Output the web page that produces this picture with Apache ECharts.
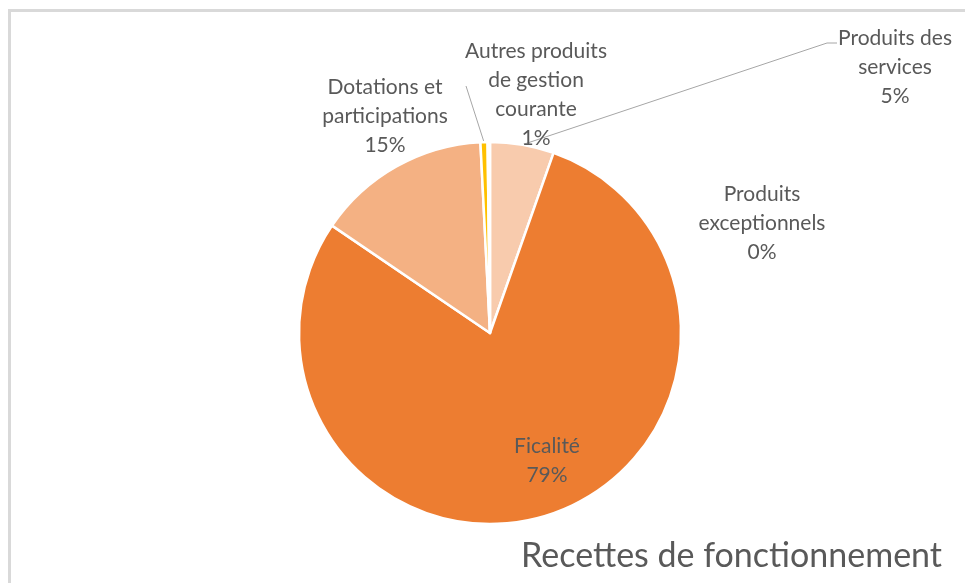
<!DOCTYPE html>
<html>
<head>
<meta charset="utf-8">
<script src="https://cdn.jsdelivr.net/npm/echarts@6/dist/echarts.min.js"></script>
<style>
html,body{margin:0;padding:0;background:#fff;}
#frame{position:absolute;left:8px;top:9px;width:1000px;height:600px;border-left:3px solid #d9d9d9;border-top:3px solid #d9d9d9;}
#chart{position:absolute;left:0;top:0;width:965px;height:583px;}
</style>
</head>
<body>
<div id="frame"></div>
<div id="chart"></div>
<script>
// Data
const categories = [
  "Produits des\nservices",
  "Ficalité",
  "Dotations et\nparticipations",
  "Autres produits\nde gestion\ncourante",
  "Produits\nexceptionnels"
];
const values = [5.4, 79.1, 14.7, 0.6, 0.2];
const sliceColors = ["#F8CBAD", "#ED7D31", "#F4B183", "#FFC000", "#C55A11"];
const chartTitle = "Recettes de fonctionnement";

// label placement (layout, not data)
const labelPositions = [[895, 67], [547, 461], [385, 116], [536, 95], [762, 223]];
const leaderEnds = [[[827, 43], [837, 43]], null, null, [[466, 86]], null];

const chart = echarts.init(document.getElementById('chart'));
const FONT = "Lato, 'Open Sans', sans-serif";
chart.setOption({
  animation: false,
  title: {
    text: chartTitle,
    right: 18,
    bottom: 5,
    textStyle: {fontFamily: FONT, fontSize: 34, fontWeight: 'normal', color: '#595959'}
  },
  series: [{
    type: 'pie',
    center: [490, 333],
    radius: 191,
    startAngle: 90,
    clockwise: true,
    percentPrecision: 0,
    itemStyle: {borderColor: '#ffffff', borderWidth: 2.5},
    label: {
      show: true,
      formatter: '{b}\n{d}%',
      fontFamily: FONT,
      fontSize: 21,
      lineHeight: 29,
      color: '#595959',
      align: 'center'
    },
    labelLine: {show: true, lineStyle: {color: '#A6A6A6', width: 1}},
    labelLayout: function (params) {
      const i = params.dataIndex;
      const p = labelPositions[i];
      const out = {x: p[0], y: p[1], align: 'center', verticalAlign: 'middle'};
      if (leaderEnds[i] && params.labelLinePoints) {
        out.labelLinePoints = [params.labelLinePoints[0]].concat(leaderEnds[i]);
      }
      return out;
    },
    data: categories.map((c, i) => ({
      name: c,
      value: values[i],
      itemStyle: {color: sliceColors[i]},
      labelLine: {show: !!leaderEnds[i]}
    }))
  }]
});
</script>
</body>
</html>
